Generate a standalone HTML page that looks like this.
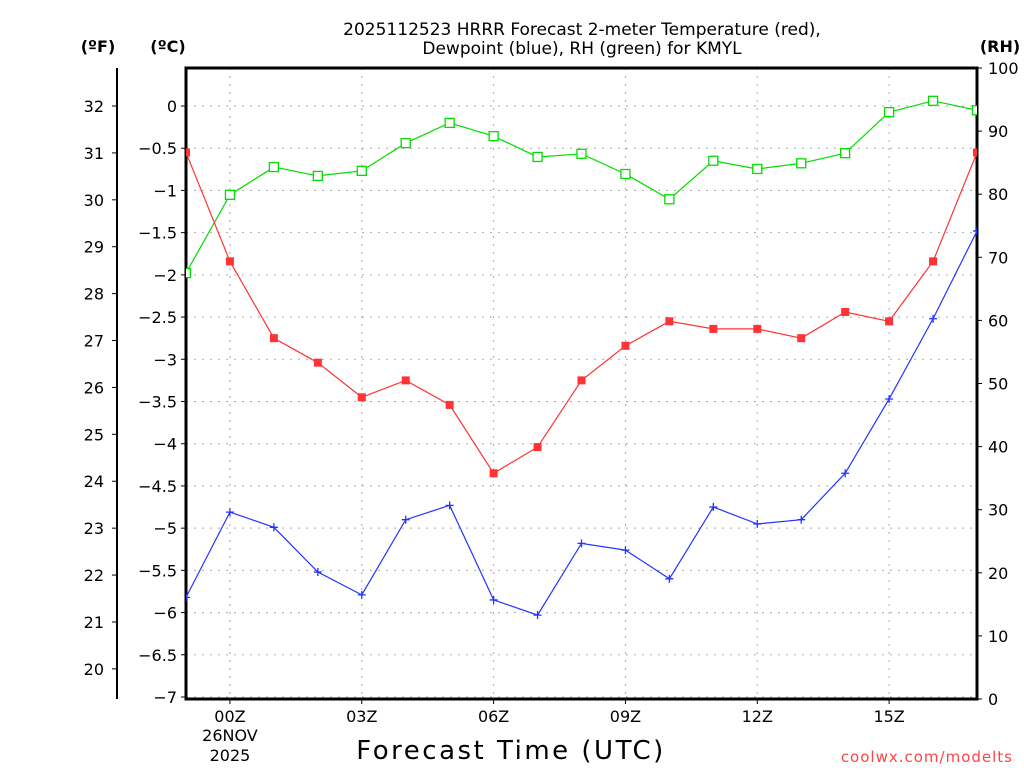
<!DOCTYPE html>
<html><head><meta charset="utf-8">
<style>
body{margin:0;background:#fff;}
svg text{font-family:"DejaVu Sans","Liberation Sans",sans-serif;}
</style></head>
<body>
<svg id="chart" width="1024" height="768" xmlns="http://www.w3.org/2000/svg">
<defs><clipPath id="plotclip"><rect x="186" y="68" width="791" height="631"/></clipPath></defs>
<text x="582" y="35" text-anchor="middle" font-size="17" fill="#000">2025112523 HRRR Forecast 2-meter Temperature (red),</text>
<text x="582" y="54" text-anchor="middle" font-size="17" fill="#000">Dewpoint (blue), RH (green) for KMYL</text>
<text x="98" y="52" text-anchor="middle" font-size="16" font-weight="bold">(ºF)</text>
<text x="168" y="52" text-anchor="middle" font-size="16" font-weight="bold">(ºC)</text>
<text x="1000" y="52" text-anchor="middle" font-size="16" font-weight="bold">(RH)</text>
<text x="511" y="759" text-anchor="middle" font-size="26" letter-spacing="2.5">Forecast Time (UTC)</text>
<text x="1013" y="762" text-anchor="end" font-size="15" fill="#ff4444" letter-spacing="1">coolwx.com/modelts</text>
<g id="grid"></g><g id="axes"></g><g id="series" clip-path="url(#plotclip)"></g>
</svg>
<script>
const hours=[-1,0,1,2,3,4,5,6,7,8,9,10,11,12,13,14,15,16,17];
const tempC=[-0.55,-1.84,-2.75,-3.04,-3.45,-3.25,-3.54,-4.35,-4.04,-3.25,-2.84,-2.55,-2.64,-2.64,-2.75,-2.44,-2.55,-1.84,-0.55];
const dewC=[-5.82,-4.81,-4.99,-5.52,-5.79,-4.90,-4.73,-5.85,-6.03,-5.18,-5.26,-5.60,-4.75,-4.95,-4.90,-4.35,-3.47,-2.52,-1.48];
const rh=[67.5,79.9,84.3,82.9,83.7,88.1,91.3,89.2,85.9,86.4,83.2,79.2,85.3,84.0,84.9,86.5,93.0,94.8,93.3];
const cTicks=[0,-0.5,-1,-1.5,-2,-2.5,-3,-3.5,-4,-4.5,-5,-5.5,-6,-6.5,-7];
const fTicks=[20,21,22,23,24,25,26,27,28,29,30,31,32];
const rhTicks=[0,10,20,30,40,50,60,70,80,90,100];
const xTickHours=[0,3,6,9,12,15];
const xTickLabels=["00Z","03Z","06Z","09Z","12Z","15Z"];

const NS="http://www.w3.org/2000/svg";
const L=186,R=977,T=68,B=699;
const x=h=>L+(h+1)*(R-L)/18;
const yC=c=>106-c*84.43;
const yF=f=>yC((f-32)/1.8);
const yR=v=>B-v*(B-T)/100;
function mk(tag,attrs,parent){const e=document.createElementNS(NS,tag);for(const k in attrs)e.setAttribute(k,attrs[k]);parent.appendChild(e);return e;}
const grid=document.getElementById('grid'),axes=document.getElementById('axes'),ser=document.getElementById('series');
cTicks.forEach(c=>{
  const g=mk('line',{x1:L,x2:R,y1:yC(c),y2:yC(c),stroke:'#aaa','stroke-dasharray':'2,6'},grid);
  
  
  mk('line',{x1:L-5,x2:L,y1:yC(c),y2:yC(c),stroke:'#000'},axes);
  const t=mk('text',{x:L-9,y:yC(c)+6,'text-anchor':'end','font-size':'16'},axes);
  t.textContent=(c<0?'\u2212':'')+Math.abs(c);
  
  
});
xTickHours.forEach((h,i)=>{
  const g=mk('line',{x1:x(h),x2:x(h),y1:T,y2:B,stroke:'#aaa','stroke-dasharray':'2,6'},grid);
  
  
  mk('line',{x1:x(h),x2:x(h),y1:B,y2:B+5,stroke:'#000'},axes);
  const t=mk('text',{x:x(h),y:B+23,'text-anchor':'middle','font-size':'16'},axes);
  t.textContent=xTickLabels[i];
  
  
});
[["26NOV",741],["2025",761]].forEach(a=>{
  const t=mk('text',{x:x(0),y:a[1],'text-anchor':'middle','font-size':'16'},axes);
  t.textContent=a[0];
  
  
});
fTicks.forEach(f=>{
  mk('line',{x1:112,x2:117,y1:yF(f),y2:yF(f),stroke:'#000'},axes);
  const t=mk('text',{x:104,y:yF(f)+6,'text-anchor':'end','font-size':'16'},axes);
  t.textContent=f;
  
  
});
mk('line',{x1:117,x2:117,y1:T,y2:B,stroke:'#000','stroke-width':2},axes);
rhTicks.forEach(v=>{
  mk('line',{x1:R,x2:R+5,y1:yR(v),y2:yR(v),stroke:'#000'},axes);
  const t=mk('text',{x:R+11,y:yR(v)+6,'font-size':'16'},axes);
  t.textContent=v;
  
  
});
const fr=mk('rect',{x:L,y:T,width:R-L,height:B-T,fill:'none',stroke:'#000','stroke-width':3},axes);



function line(vals,yf,col,name){
  const p=mk('polyline',{points:vals.map((v,i)=>x(hours[i])+','+yf(v)).join(' '),fill:'none',stroke:col,'stroke-width':1.2},ser);
  
  
}
line(rh,yR,'#00dd00','rh-line');
line(tempC,yC,'#ff3333','temperature-line');
line(dewC,yC,'#2233ff','dewpoint-line');
rh.forEach((v,i)=>{
  const m=mk('rect',{x:x(hours[i])-4.5,y:yR(v)-4.5,width:9,height:9,fill:'#fff',stroke:'#00dd00','stroke-width':1.3},ser);
  
  
});
tempC.forEach((v,i)=>{
  const m=mk('rect',{x:x(hours[i])-4,y:yC(v)-4,width:8,height:8,fill:'#ff3333'},ser);
  
  
});
dewC.forEach((v,i)=>{
  const cx=x(hours[i]),cy=yC(v);
  const m=mk('path',{d:`M${cx-4},${cy}H${cx+4}M${cx},${cy-4}V${cy+4}`,stroke:'#2233ff','stroke-width':1.3},ser);
  
  
});
</script>
</body></html>
